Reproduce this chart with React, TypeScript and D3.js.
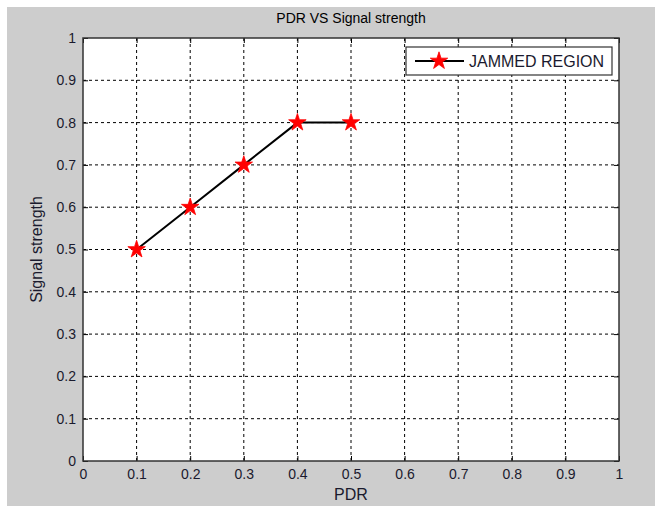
import { useEffect, useRef } from 'react';
import * as d3 from 'd3';

const pdr = [0.1, 0.2, 0.3, 0.4, 0.5];
const signal = [0.5, 0.6, 0.7, 0.8, 0.8];
const ticks = [0, 0.1, 0.2, 0.3, 0.4, 0.5, 0.6, 0.7, 0.8, 0.9, 1];
const seriesName = 'JAMMED REGION';

const width = 655;
const height = 506;
const font = 'Liberation Sans, Arial, sans-serif';

export default function App() {
  const svgRef = useRef<SVGSVGElement>(null);

  useEffect(() => {
    if (!svgRef.current) return;
    const svg = d3.select(svgRef.current);
    svg.selectAll('*').remove();

    const margin = { top: 38, right: 36, bottom: 45, left: 83 };
    const innerW = width - margin.left - margin.right;
    const innerH = height - margin.top - margin.bottom;

    // figure background
    svg.append('rect')
      .attr('x', 7).attr('y', 7)
      .attr('width', width - 7).attr('height', height - 7)
      .attr('fill', '#cdcdcd');

    const x = d3.scaleLinear().domain([0, 1]).range([0, innerW]);
    const y = d3.scaleLinear().domain([0, 1]).range([innerH, 0]);

    const g = svg.append('g')
      .attr('transform', `translate(${margin.left},${margin.top})`);

    g.append('rect')
      .attr('width', innerW).attr('height', innerH)
      .attr('fill', '#fff');

    // grid
    const inner = ticks.slice(1, -1);
    g.selectAll('.vgrid').data(inner).enter().append('line')
      .attr('x1', d => x(d)).attr('x2', d => x(d))
      .attr('y1', 0).attr('y2', innerH)
      .attr('stroke', '#000').attr('stroke-width', 1)
      .attr('stroke-dasharray', '3,3');
    g.selectAll('.hgrid').data(inner).enter().append('line')
      .attr('y1', d => y(d)).attr('y2', d => y(d))
      .attr('x1', 0).attr('x2', innerW)
      .attr('stroke', '#000').attr('stroke-width', 1)
      .attr('stroke-dasharray', '3,3');

    // axes with inward ticks on all sides
    const xb = g.append('g').attr('transform', `translate(0,${innerH})`)
      .call(d3.axisBottom(x).tickValues(ticks).tickSizeInner(-5).tickSizeOuter(0).tickPadding(8).tickFormat(d3.format('')));
    const yl = g.append('g')
      .call(d3.axisLeft(y).tickValues(ticks).tickSizeInner(-5).tickSizeOuter(0).tickPadding(7).tickFormat(d3.format('')));
    g.append('g')
      .call(d3.axisTop(x).tickValues(ticks).tickSizeInner(-5).tickSizeOuter(0).tickFormat(() => ''));
    g.append('g').attr('transform', `translate(${innerW},0)`)
      .call(d3.axisRight(y).tickValues(ticks).tickSizeInner(-5).tickSizeOuter(0).tickFormat(() => ''));

    g.selectAll('.domain').remove();
    g.selectAll('.tick line').attr('stroke', '#000');
    [xb, yl].forEach(a => a.selectAll('text')
      .attr('font-family', font).attr('font-size', 14).attr('fill', '#1a1a2e'));

    g.append('rect')
      .attr('width', innerW).attr('height', innerH)
      .attr('fill', 'none').attr('stroke', '#333').attr('stroke-width', 1.5);

    // series
    const line = d3.line<number>()
      .x((_, i) => x(pdr[i]))
      .y(d => y(d));
    g.append('path')
      .datum(signal)
      .attr('d', line)
      .attr('fill', 'none')
      .attr('stroke', '#000')
      .attr('stroke-width', 2);

    const star = d3.symbol().type(d3.symbolStar).size(95);
    g.selectAll('.pt').data(signal).enter().append('path')
      .attr('d', star)
      .attr('transform', (d, i) => `translate(${x(pdr[i])},${y(d)})`)
      .attr('fill', '#ff0000')
      .attr('stroke', '#ff0000')
      .attr('stroke-width', 0.8);

    // legend
    const lg = svg.append('g').attr('transform', 'translate(406,47)');
    lg.append('rect')
      .attr('width', 206).attr('height', 28)
      .attr('fill', '#fff').attr('stroke', '#333').attr('stroke-width', 1.2);
    lg.append('line')
      .attr('x1', 9).attr('x2', 58).attr('y1', 14).attr('y2', 14)
      .attr('stroke', '#000').attr('stroke-width', 2);
    lg.append('path')
      .attr('d', star)
      .attr('transform', 'translate(33,14)')
      .attr('fill', '#ff0000').attr('stroke', '#ff0000').attr('stroke-width', 0.8);
    lg.append('text')
      .attr('x', 63).attr('y', 20)
      .attr('font-family', font).attr('font-size', 16).attr('fill', '#1a1a2e')
      .text(seriesName);

    // titles
    svg.append('text')
      .attr('x', margin.left + innerW / 2).attr('y', 23)
      .attr('text-anchor', 'middle')
      .attr('font-family', font).attr('font-size', 14).attr('fill', '#000')
      .text('PDR VS Signal strength');
    svg.append('text')
      .attr('x', margin.left + innerW / 2).attr('y', 500)
      .attr('text-anchor', 'middle')
      .attr('font-family', font).attr('font-size', 16).attr('fill', '#1a1a2e')
      .text('PDR');
    svg.append('text')
      .attr('transform', `translate(42,${margin.top + innerH / 2}) rotate(-90)`)
      .attr('text-anchor', 'middle')
      .attr('font-family', font).attr('font-size', 16).attr('fill', '#1a1a2e')
      .text('Signal strength');
  }, []);

  return (
    <svg ref={svgRef} width={width} height={height}
      style={{ position: 'absolute', left: 0, top: 0, background: '#fff' }} />
  );
}
